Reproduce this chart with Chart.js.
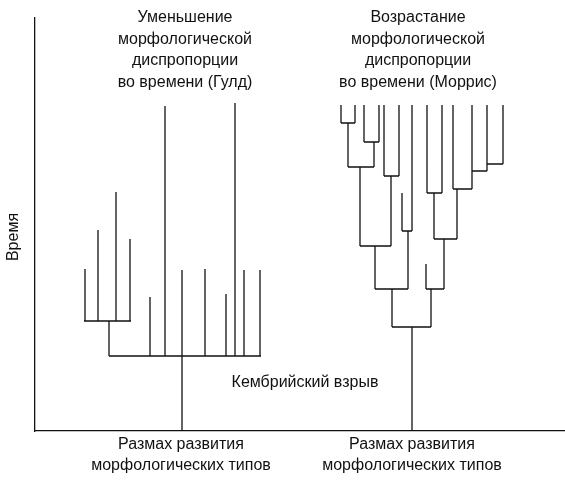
<!DOCTYPE html>
<html>
<head>
<meta charset="utf-8">
<script src="https://cdn.jsdelivr.net/npm/chart.js@4/dist/chart.umd.min.js"></script>
<style>
  html, body { margin: 0; padding: 0; background: #fff; }
  #wrap { width: 565px; height: 484px; }
</style>
</head>
<body>
<div id="wrap"><canvas id="tree"></canvas></div>
<script>
// Ветви: [x1, y1, x2, y2] (время растёт вверх, значения y - глубина)
const leftBranches = [
  [85, 269, 85, 321], [98, 230, 98, 321], [116, 192, 116, 321], [130, 239, 130, 321],
  [84, 321, 131, 321], [109, 321, 109, 356],
  [109, 356, 261, 356],
  [150, 297, 150, 356], [165, 106, 165, 356], [182, 270, 182, 356], [205, 269, 205, 356],
  [226, 294, 226, 356], [235, 103, 235, 356], [244, 270, 244, 356], [260, 270, 260, 356],
  [182, 356, 182, 431]
];
const rightBranches = [
  [341, 105, 341, 123], [355, 105, 355, 123], [341, 123, 355, 123], [348, 123, 348, 167],
  [364, 105, 364, 142], [379, 105, 379, 142], [364, 142, 379, 142], [374, 142, 374, 167],
  [348, 167, 374, 167], [360, 167, 360, 246],
  [384, 105, 384, 176], [399, 105, 399, 176], [384, 176, 399, 176], [391, 176, 391, 246],
  [360, 246, 391, 246], [375, 246, 375, 289],
  [402, 193, 402, 231], [412, 105, 412, 231], [402, 231, 412, 231], [408, 231, 408, 289],
  [375, 289, 408, 289], [392, 289, 392, 327],
  [427, 105, 427, 193], [442, 105, 442, 193], [427, 193, 442, 193], [434, 193, 434, 239],
  [487, 105, 487, 164], [503, 105, 503, 164], [487, 164, 503, 164], [487, 164, 487, 171],
  [472, 105, 472, 189], [472, 171, 487, 171],
  [453, 105, 453, 189], [453, 189, 472, 189], [457, 189, 457, 239],
  [434, 239, 457, 239], [444, 239, 444, 289],
  [426, 264, 426, 289], [426, 289, 444, 289], [431, 289, 431, 327],
  [392, 327, 431, 327], [412, 327, 412, 431]
];
const titleLeft = ['Уменьшение', 'морфологической', 'диспропорции', 'во времени (Гулд)'];
const titleRight = ['Возрастание', 'морфологической', 'диспропорции', 'во времени (Моррис)'];
const axisLabel = ['Размах развития', 'морфологических типов'];

function toPoints(segs) {
  const pts = [];
  segs.forEach(s => {
    pts.push({ x: s[0], y: s[1] }, { x: s[2], y: s[3] }, { x: null, y: null });
  });
  return pts;
}

const textPlugin = {
  id: 'texts',
  afterDraw(chart) {
    const c = chart.ctx;
    c.save();
    c.fillStyle = '#111';
    c.font = "16px 'Liberation Sans', Arial, sans-serif";
    c.textAlign = 'center';
    c.textBaseline = 'middle';
    titleLeft.forEach((t, i) => c.fillText(t, 185, 18 + i * 21.5));
    titleRight.forEach((t, i) => c.fillText(t, 418, 18 + i * 21.5));
    axisLabel.forEach((t, i) => { c.fillText(t, 181, 445 + i * 21); c.fillText(t, 412, 445 + i * 21); });
    c.fillText('Кембрийский взрыв', 305, 383);
    c.translate(14, 237);
    c.rotate(-Math.PI / 2);
    c.fillText('Время', 0, 0);
    c.restore();
  }
};

const lineStyle = { showLine: true, spanGaps: false, borderColor: '#111', borderWidth: 1.3, pointRadius: 0, fill: false };

new Chart(document.getElementById('tree'), {
  type: 'scatter',
  data: {
    datasets: [
      Object.assign({ data: toPoints(leftBranches) }, lineStyle),
      Object.assign({ data: toPoints(rightBranches) }, lineStyle)
    ]
  },
  options: {
    responsive: true,
    maintainAspectRatio: false,
    animation: false,
    layout: { padding: { left: 35, top: 18, right: 0, bottom: 53 } },
    plugins: { legend: { display: false }, tooltip: { enabled: false } },
    scales: {
      x: { type: 'linear', min: 35, max: 565, ticks: { display: false }, grid: { display: false, drawTicks: false }, border: { color: '#111', width: 1.3 } },
      y: { type: 'linear', min: 18, max: 431, reverse: true, ticks: { display: false }, grid: { display: false, drawTicks: false }, border: { color: '#111', width: 1.3 } }
    }
  },
  plugins: [textPlugin]
});
</script>
</body>
</html>
